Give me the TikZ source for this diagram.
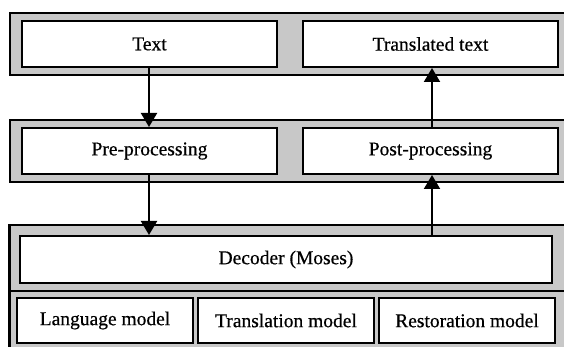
\documentclass[tikz,border=0pt]{standalone}
\usepackage{fontspec}
\setmainfont{Liberation Serif}[FakeBold=0.6]
\usetikzlibrary{arrows.meta}
\definecolor{bandgrey}{RGB}{200,200,200}
\tikzset{
  band/.style={draw=black, fill=bandgrey, line width=2.2pt},
  box/.style={draw=black, fill=white, line width=2pt, inner sep=0pt,
    font=\fontsize{19.5}{22}\selectfont},
  flow/.style={line width=2pt, -{Triangle[length=14pt,width=16pt]}}
}
\begin{document}
\begin{tikzpicture}[x=1pt, y=-1pt]
\useasboundingbox (0,0) rectangle (564,347);
\clip (0,0) rectangle (564,347);
% grey panels
\draw[band] (10,13) rectangle (580,75);
\draw[band] (10,120) rectangle (580,182);
\draw[band] (9.5,225) rectangle (580,370);
\draw[line width=2.2pt] (9.5,291) -- (580,291);
% boxes
\node[box, minimum width=255pt, minimum height=46pt] (txt) at (149.5,44) {Text};
\node[box, minimum width=255pt, minimum height=46pt] (trans) at (430.5,44) {Translated text};
\node[box, minimum width=255pt, minimum height=46pt] (pre) at (149.5,151) {Pre-processing};
\node[box, minimum width=255pt, minimum height=46pt] (post) at (430.5,151) {Post-processing};
\node[box, minimum width=532pt, minimum height=47pt] (dec) at (286,259.5) {Decoder (Moses)};
\node[box, minimum width=176pt, minimum height=45pt] (lm) at (105,320.5) {Language model};
\node[box, minimum width=176pt, minimum height=45pt] (tm) at (286,320.5) {Translation model};
\node[box, minimum width=176pt, minimum height=45pt] (rm) at (467,320.5) {Restoration model};
% data flow
\draw[flow] ([xshift=-0.5pt]txt.south) -- ([xshift=-0.5pt]pre.north);
\draw[flow] ([xshift=-0.5pt]pre.south) -- ([xshift=-0.5pt]pre.south |- dec.north);
\draw[flow] ([xshift=1.5pt]post.south |- dec.north) -- ([xshift=1.5pt]post.south);
\draw[flow] ([xshift=1.5pt]post.north) -- ([xshift=1.5pt]trans.south);
\end{tikzpicture}
\end{document}
